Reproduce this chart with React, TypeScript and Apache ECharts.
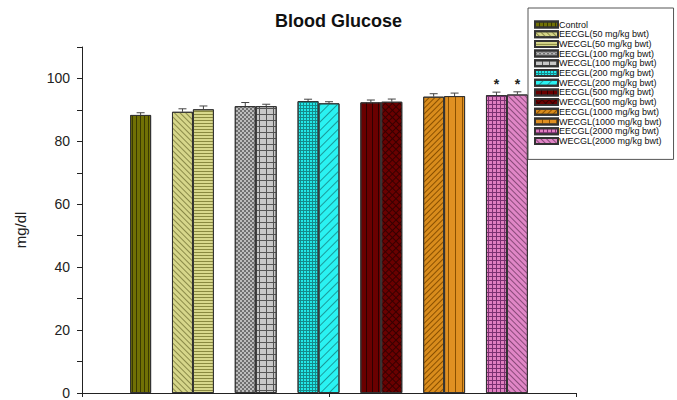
import React, { useEffect, useRef } from "react";
import * as echarts from "echarts";

const seriesNames = [
  "Control",
  "EECGL(50 mg/kg bwt)",
  "WECGL(50 mg/kg bwt)",
  "EECGL(100 mg/kg bwt)",
  "WECGL(100 mg/kg bwt)",
  "EECGL(200 mg/kg bwt)",
  "WECGL(200 mg/kg bwt)",
  "EECGL(500 mg/kg bwt)",
  "WECGL(500 mg/kg bwt)",
  "EECGL(1000 mg/kg bwt)",
  "WECGL(1000 mg/kg bwt)",
  "EECGL(2000 mg/kg bwt)",
  "WECGL(2000 mg/kg bwt)",
];
const values = [88.4, 89.4, 90.2, 91.2, 91.2, 92.8, 92.1, 92.4, 92.6, 94.2, 94.4, 94.7, 94.9];
const errors = [0.7, 0.95, 1.05, 1.15, 0.6, 0.6, 0.5, 0.75, 0.85, 0.95, 0.95, 0.95, 0.85];
const significant = [false, false, false, false, false, false, false, false, false, false, false, true, true];
const yTicks = [0, 20, 40, 60, 80, 100];

// layout: slot positions on x axis (control alone, then pairs separated by one empty slot)
const PAD = 2.8;
const slotOf = (i: number) => (i === 0 ? 0 : 3 * Math.ceil(i / 2) - 1 + ((i - 1) % 2));
const xPos = (i: number) => slotOf(i) + PAD;
const X_MAX = 18 + 2 * PAD;

const Q = Math.PI / 4;
const styles = [
  { fill: "#717105", line: "#3a3a00", decal: { dashArrayX: [1, 2.5], dashArrayY: [4, 0] } },
  { fill: "#d6d68a", line: "#8a8a48", decal: { dashArrayX: [4, 0], dashArrayY: [1, 2.2], rotation: Q } },
  { fill: "#d8d88c", line: "#8a8a40", decal: { dashArrayX: [4, 0], dashArrayY: [1, 2] } },
  { fill: "#bdbdbd", line: "#707070", decal: { dashArrayX: [[1.5, 1.5], [0, 1.5, 1.5, 0]], dashArrayY: [1.5, 0] } },
  { fill: "#c8c8c8", line: "#555555", decal: { dashArrayX: [[7, 0], [1, 6]], dashArrayY: [1, 0, 5, 0] } },
  { fill: "#22e8e8", line: "#158a8a", decal: { dashArrayX: [[3, 0], [1, 2]], dashArrayY: [1, 0, 2, 0] } },
  { fill: "#2af2f2", line: "#1a9a9a", decal: { dashArrayX: [4, 0], dashArrayY: [1, 4.5], rotation: -Q } },
  { fill: "#6a0000", line: "#2e0000", decal: { dashArrayX: [1, 4.5], dashArrayY: [4, 0] } },
  { fill: "#6a0000", line: "#360000", decal: { dashArrayX: [[5, 0], [1, 4]], dashArrayY: [1, 0, 4, 0], rotation: Q } },
  { fill: "#d98c1c", line: "#8a5000", decal: { dashArrayX: [4, 0], dashArrayY: [1, 2.5], rotation: -Q } },
  { fill: "#e09022", line: "#8a5000", decal: { dashArrayX: [1, 6], dashArrayY: [4, 0] } },
  { fill: "#e07fc0", line: "#7a3070", decal: { dashArrayX: [[4, 0], [1, 3]], dashArrayY: [1, 0, 3, 0] } },
  { fill: "#e086c6", line: "#8a4a7a", decal: { dashArrayX: [4, 0], dashArrayY: [1, 3], rotation: Q } },
];

export default function App() {
  const ref = useRef<HTMLDivElement>(null);
  useEffect(() => {
    if (!ref.current) return;
    const chart = echarts.init(ref.current, undefined, { renderer: "svg" });
    const barSeries = seriesNames.map((name, i) => ({
      name,
      type: "bar",
      barWidth: 21,
      barGap: "-100%",
      data: [[xPos(i), values[i]]],
      itemStyle: {
        color: styles[i].fill,
        borderColor: "#333",
        borderWidth: 1,
        decal: { symbol: "rect", symbolSize: 1, color: styles[i].line, ...styles[i].decal },
      },
    }));
    const errSeries = {
      type: "custom",
      name: "err",
      data: seriesNames.map((_, i) => [xPos(i), values[i], errors[i], significant[i] ? 1 : 0]),
      encode: { x: 0, y: 1 },
      z: 10,
      renderItem: (params: any, api: any) => {
        const x = api.value(0);
        const y = api.value(1);
        const e = api.value(2);
        const base = api.coord([x, y]);
        const top = api.coord([x, y + e]);
        const children: any[] = [
          { type: "line", shape: { x1: base[0], y1: base[1], x2: top[0], y2: top[1] }, style: { stroke: "#444", lineWidth: 1 } },
          { type: "line", shape: { x1: top[0] - 4, y1: top[1], x2: top[0] + 4, y2: top[1] }, style: { stroke: "#444", lineWidth: 1 } },
        ];
        if (api.value(3)) {
          children.push({
            type: "text",
            style: {
              text: "*",
              x: top[0],
              y: top[1] - 1,
              align: "center",
              verticalAlign: "bottom",
              fontSize: 14,
              fontWeight: "bold",
              fontFamily: "Arial",
              fill: "#222",
            },
          });
        }
        return { type: "group", children };
      },
    };
    chart.setOption({
      animation: false,
      title: {
        text: "Blood Glucose",
        left: "center",
        top: 7,
        textStyle: { fontSize: 18, fontWeight: "bold", fontFamily: "Arial", color: "#111" },
      },
      grid: { left: 82, right: 101, top: 47, bottom: 4, containLabel: false },
      xAxis: {
        type: "value",
        min: 0,
        max: X_MAX,
        interval: X_MAX / 2,
        axisLine: { show: true, lineStyle: { color: "#222", width: 1 } },
        axisTick: { show: true, length: 4, lineStyle: { color: "#222" } },
        axisLabel: { show: false },
        splitLine: { show: false },
      },
      yAxis: {
        type: "value",
        min: 0,
        max: 110,
        interval: 10,
        axisLine: { show: true, lineStyle: { color: "#222", width: 1 } },
        axisTick: { show: true, length: 5, lineStyle: { color: "#222" } },
        axisLabel: {
          fontSize: 14,
          fontFamily: "Arial",
          color: "#222",
          margin: 12,
          formatter: (v: number) => (yTicks.includes(v) ? String(v) : ""),
        },
        splitLine: { show: false },
      },
      legend: {
        data: seriesNames,
        orient: "vertical",
        left: 528,
        top: 8,
        padding: [12, 12, 14, 6],
        itemWidth: 23,
        itemHeight: 6,
        itemGap: 0.7,
        icon: "rect",
        backgroundColor: "#fff",
        borderColor: "#555",
        borderWidth: 1,
        textStyle: { fontSize: 9, lineHeight: 9, fontFamily: "Arial", color: "#111", padding: [0, 0, 0, -4] },
        selectedMode: false,
      },
      graphic: [
        {
          type: "text",
          x: 20,
          y: 230,
          rotation: Math.PI / 2,
          style: {
            text: "mg/dl",
            fontSize: 15,
            fontFamily: "Arial",
            fill: "#222",
            align: "center",
            verticalAlign: "middle",
          },
        },
      ],
      series: [...barSeries, errSeries],
    });
    return () => chart.dispose();
  }, []);
  return <div ref={ref} style={{ width: 677, height: 400, position: "absolute", left: 0, top: 0 }} />;
}
